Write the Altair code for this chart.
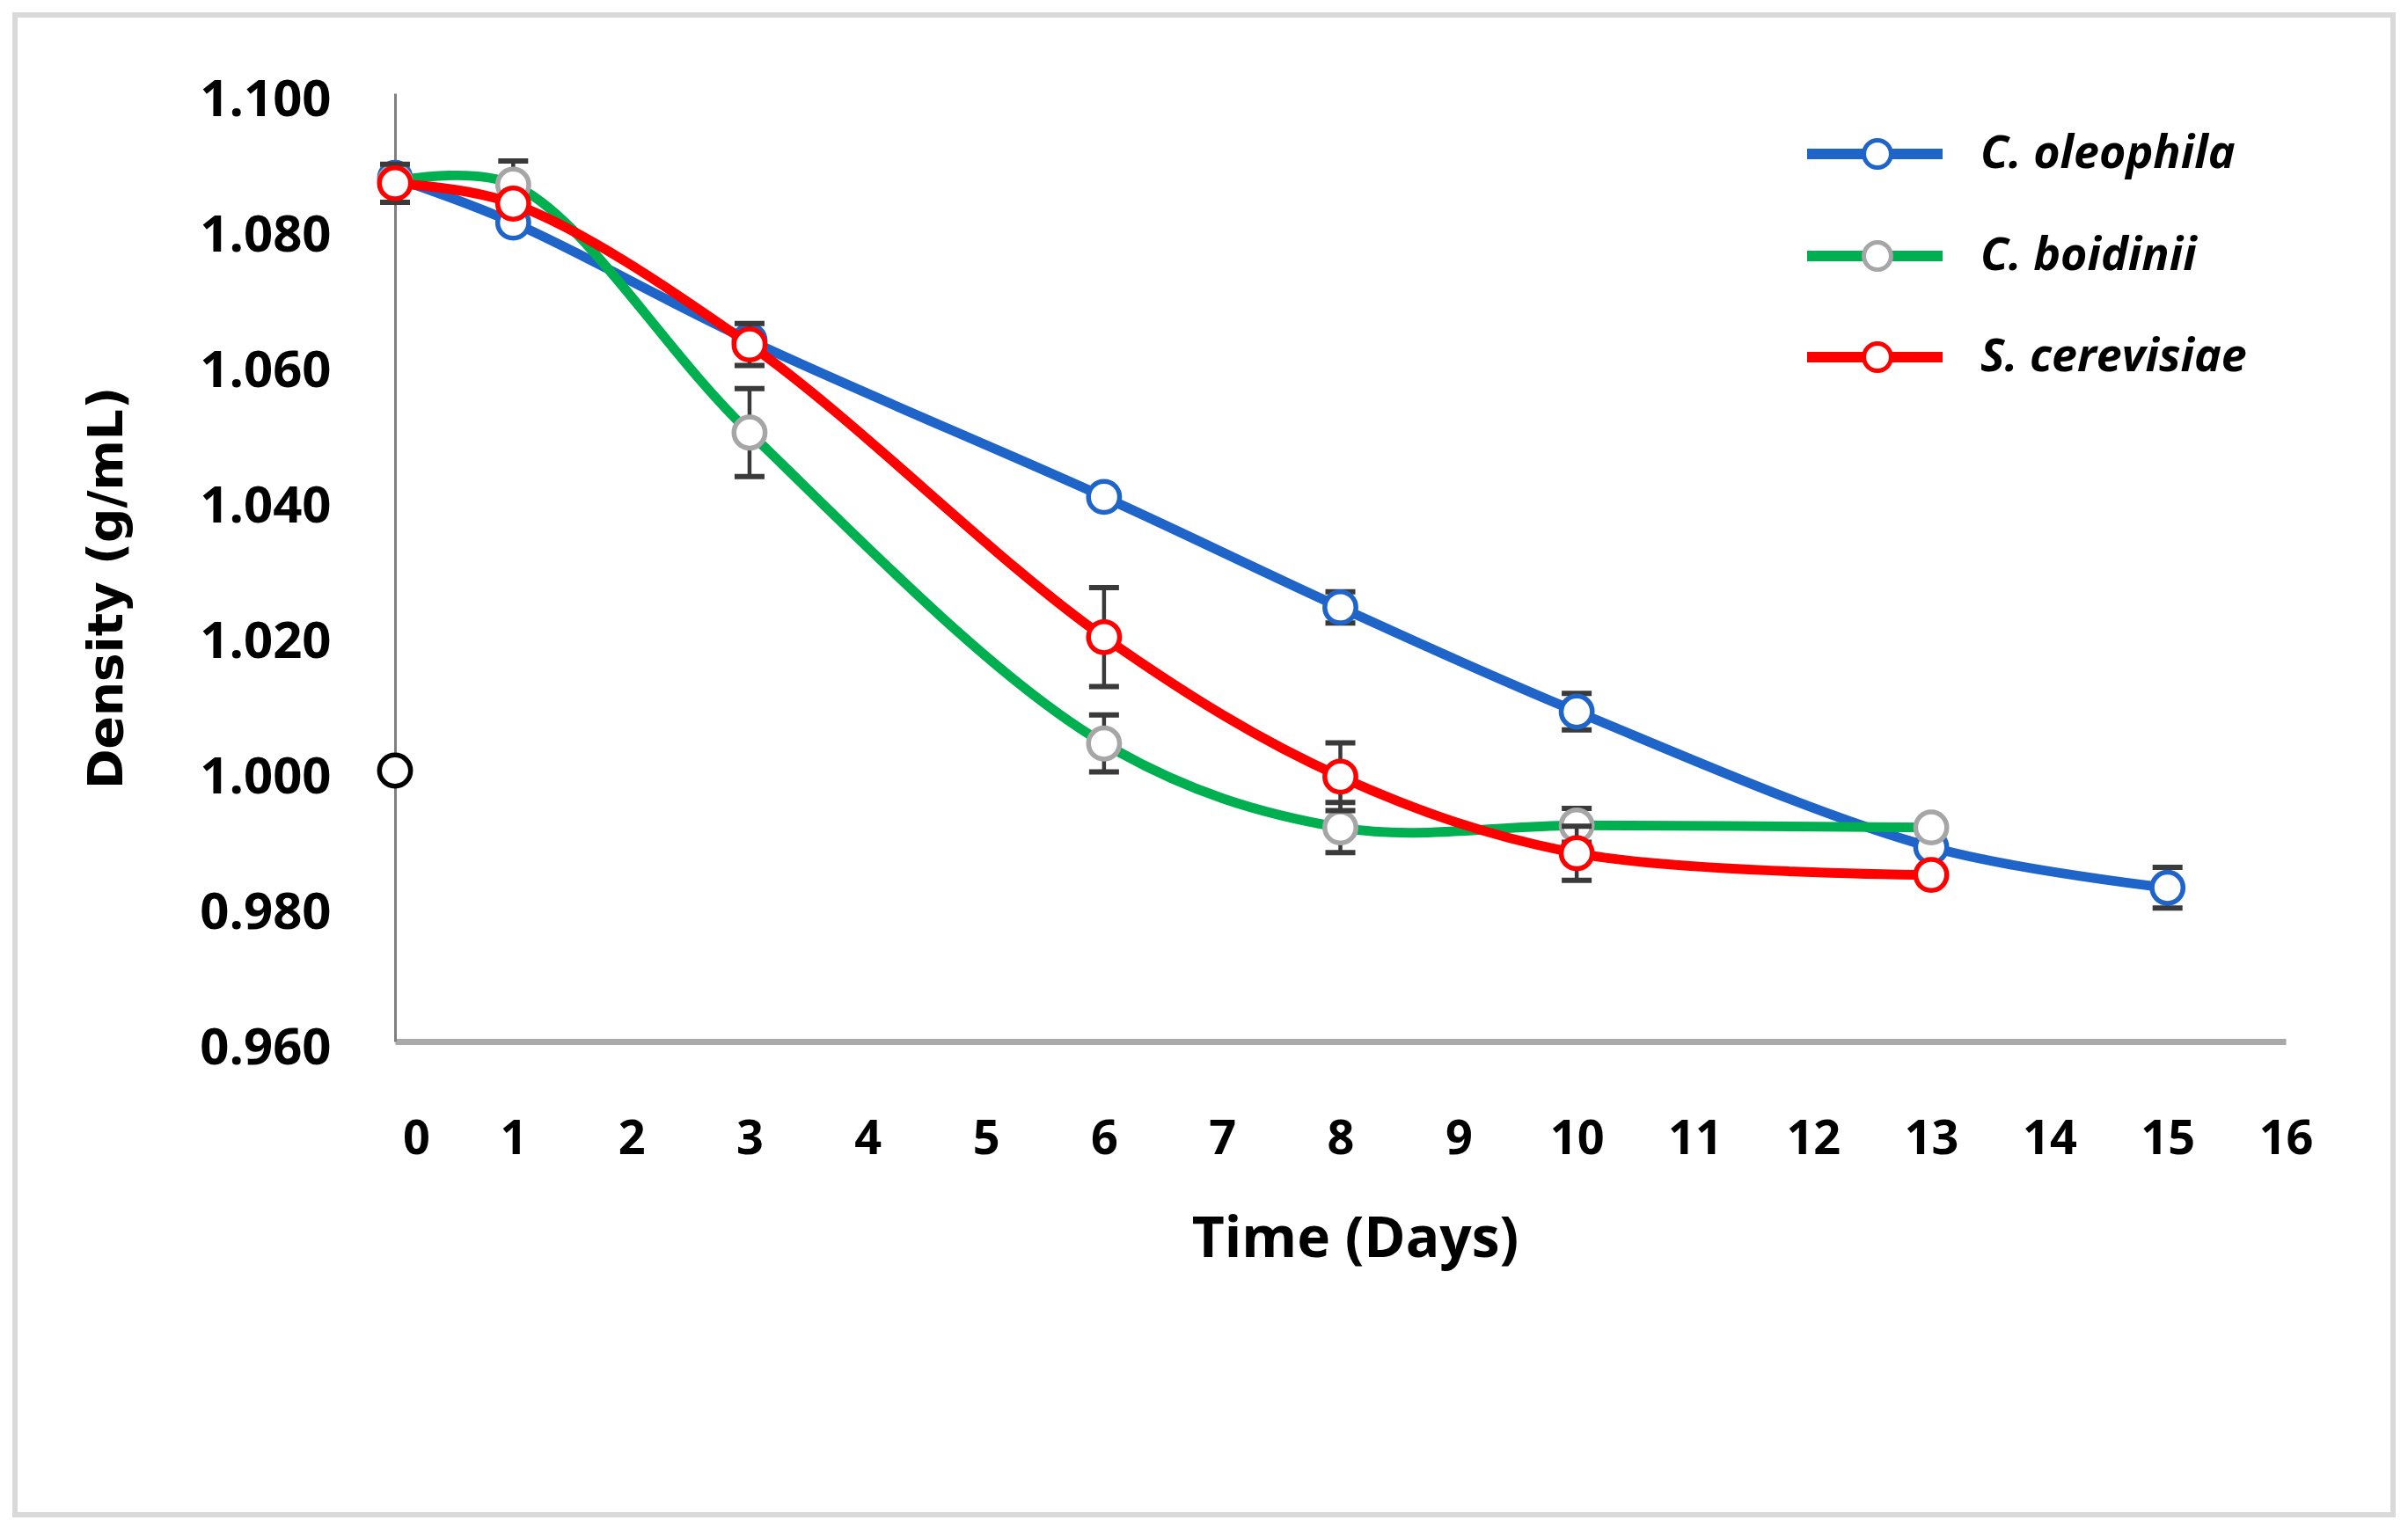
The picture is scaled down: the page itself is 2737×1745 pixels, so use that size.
import altair as alt
import pandas as pd

# ---------------- data ----------------
days_co = [0, 1, 3, 6, 8, 10, 13, 15]
dens_co = [1.0875, 1.0809, 1.0635, 1.0404, 1.0241, 1.0087, 0.9887, 0.9827]
err_co = [0.0010, 0.0010, 0.0010, 0.0010, 0.0023, 0.0027, 0.0010, 0.0030]

days_cb = [0, 1, 3, 6, 8, 10, 13]
dens_cb = [1.0870, 1.0865, 1.0499, 1.0040, 0.9916, 0.9919, 0.9916]
err_cb = [0.0010, 0.0035, 0.0065, 0.0042, 0.0037, 0.0025, 0.0010]

days_sc = [0, 1, 3, 6, 8, 10, 13]
dens_sc = [1.0867, 1.0837, 1.0629, 1.0197, 0.9991, 0.9878, 0.9846]
err_sc = [0.0028, 0.0010, 0.0031, 0.0073, 0.0050, 0.0040, 0.0010]

extra_day = [0]
extra_dens = [1.000]

series_names = ["C. oleophila", "C. boidinii", "S. cerevisiae"]
line_colors = ["#1f64c8", "#00b050", "#ff0000"]
marker_colors = ["#1f64c8", "#a6a6a6", "#ff0000"]

x_ticks = list(range(0, 17))
y_ticks = [0.96, 0.98, 1.00, 1.02, 1.04, 1.06, 1.08, 1.10]

# ---------------- build ----------------
W, H = 2149, 1078
x_scale = alt.Scale(domain=[0, 16], nice=False, zero=False)
y_scale = alt.Scale(domain=[0.96, 1.10], nice=False, zero=False)

x_axis = alt.Axis(
    title="Time (Days)", values=x_ticks, format="d", grid=False, ticks=False,
    domainColor="#a9a9a9", domainWidth=7,
    labelFont="Open Sans", labelFontSize=54, labelFontWeight="bold", labelColor="black",
    labelPadding=84, labelFlush=False, labelOverlap=False,
    labelOffset={"condition": {"test": "datum.value === 0", "value": 24}, "value": 0},
    titleFont="Open Sans", titleFontSize=64, titleFontWeight="bold", titleColor="black",
    titleX=1091, titleY=244, titleAlign="center", titleBaseline="alphabetic",
)
y_axis = alt.Axis(
    title="Density (g/mL)", values=y_ticks, format=".3f", grid=False, ticks=False,
    domainColor="#808080", domainWidth=3,
    labelFont="Open Sans", labelFontSize=58, labelFontWeight="bold", labelColor="black",
    labelPadding=73, labelFlush=False, labelOverlap=False, labelOffset=8,
    titleFont="DejaVu Sans", titleFontSize=55, titleFontWeight="bold", titleColor="black",
    titleX=-328, titleY=562, titleAlign="center", titleBaseline="middle",
)


def X(field):
    return alt.X(field, type="quantitative", scale=x_scale, axis=x_axis)


def Y(field):
    return alt.Y(field, type="quantitative", scale=y_scale, axis=y_axis)


one = pd.DataFrame({"k": [0]})

layers = []
# outer frame of the figure
layers.append(
    alt.Chart(one).mark_rect(fillOpacity=0, stroke="#d9d9d9", strokeWidth=6).encode(
        x=alt.value(-432), x2=alt.value(2271), y=alt.value(-89), y2=alt.value(1616)
    )
)

all_series = [
    (days_co, dens_co, err_co),
    (days_cb, dens_cb, err_cb),
    (days_sc, dens_sc, err_sc),
]

for i, (d, v, e) in enumerate(all_series):
    df = pd.DataFrame({"day": d, "dens": v, "err": e})
    df["lo"] = df["dens"] - df["err"]
    df["hi"] = df["dens"] + df["err"]
    base = alt.Chart(df)
    # error bars
    layers.append(base.mark_rule(color="#3a3a3a", strokeWidth=4.5).encode(
        x=X("day"), y=Y("lo"), y2=alt.Y2("hi")))
    for cap in ["lo", "hi"]:
        layers.append(base.mark_rule(color="#3a3a3a", strokeWidth=6, xOffset=-17, x2Offset=17).encode(
            x=X("day"), x2=alt.X2("day"), y=Y(cap)))
    # smoothed line
    layers.append(base.mark_line(interpolate="catmull-rom", strokeWidth=11, color=line_colors[i]).encode(
        x=X("day"), y=Y("dens")))
    # open markers
    layers.append(base.mark_point(shape="circle", filled=True, fill="white", fillOpacity=1,
                                  stroke=marker_colors[i], strokeWidth=5.5, size=1250, opacity=1).encode(
        x=X("day"), y=Y("dens")))

# stray black open circle on the y axis
df_extra = pd.DataFrame({"day": extra_day, "dens": extra_dens})
layers.append(alt.Chart(df_extra).mark_point(shape="circle", filled=True, fill="white", fillOpacity=1,
                                             stroke="black", strokeWidth=5.5, size=1250, opacity=1).encode(
    x=X("day"), y=Y("dens")))

# manual legend
legend_rows = [69, 185, 300]
for i, name in enumerate(series_names):
    ry = legend_rows[i]
    layers.append(alt.Chart(one).mark_rule(color=line_colors[i], strokeWidth=12).encode(
        x=alt.value(1605), x2=alt.value(1759), y=alt.value(ry)))
    layers.append(alt.Chart(one).mark_point(shape="circle", filled=True, fill="white", fillOpacity=1,
                                            stroke=marker_colors[i], strokeWidth=5, size=950, opacity=1).encode(
        x=alt.value(1685), y=alt.value(ry)))
    layers.append(alt.Chart(one).mark_text(text=name, align="left", baseline="middle", font="Open Sans",
                                           fontSize=52, fontWeight="bold", fontStyle="italic", color="black").encode(
        x=alt.value(1802), y=alt.value(ry)))

chart = alt.layer(*layers).properties(
    width=W, height=H,
    padding={"left": 441, "top": 98, "right": 131, "bottom": 553},
    autosize=alt.AutoSizeParams(type="none"),
    background="white",
).configure_view(strokeWidth=0)

chart.save("out.html", embed_options={"renderer": "svg", "actions": False})
